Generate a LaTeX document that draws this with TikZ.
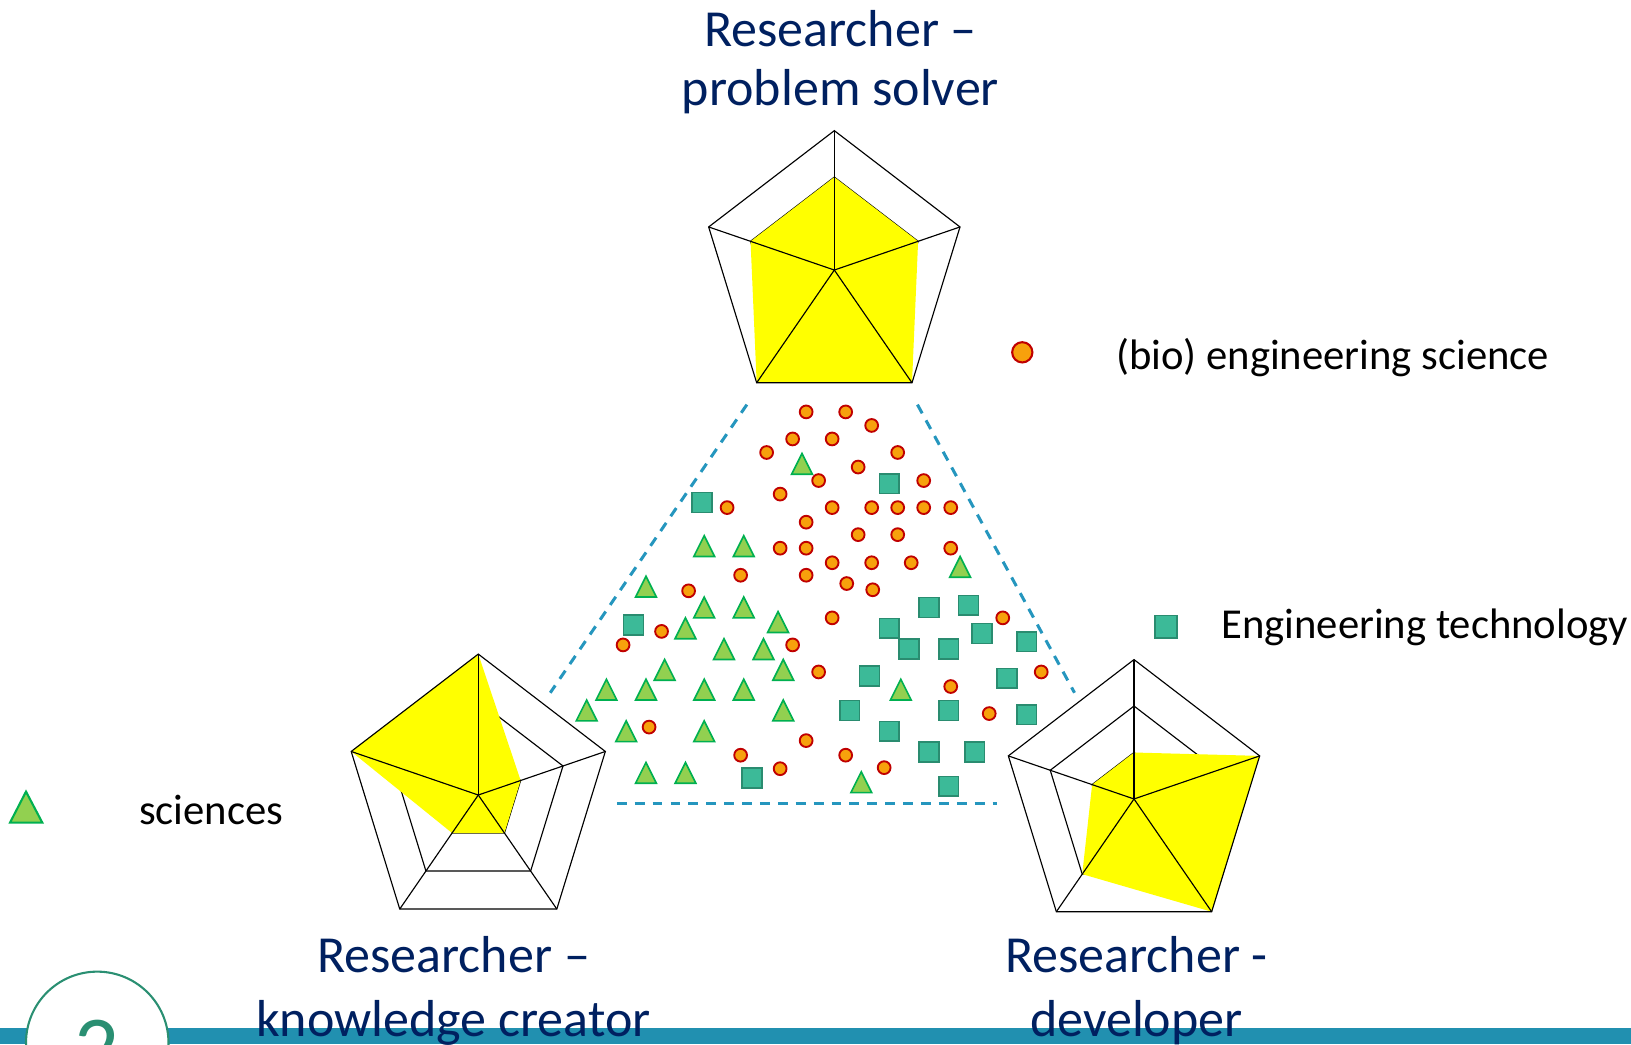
\documentclass[tikz,border=0pt]{standalone}
\usepackage{fontspec}
\setmainfont{Carlito}
\definecolor{navy}{HTML}{002060}
\definecolor{dotfill}{HTML}{F7A10C}
\definecolor{dotline}{HTML}{C00000}
\definecolor{trifill}{HTML}{92D050}
\definecolor{triline}{HTML}{00B050}
\definecolor{sqfill}{HTML}{3CBA98}
\definecolor{sqline}{HTML}{2A8C70}
\definecolor{dashcol}{HTML}{2596BE}
\definecolor{barcol}{HTML}{2190B0}
\definecolor{badge}{HTML}{2A8F72}
\definecolor{radarfill}{RGB}{255,255,0}
\begin{document}
\begin{tikzpicture}[x=1pt,y=-1pt,
  gridline/.style={black,line width=1.1pt,line join=miter},
  dotmark/.style={circle,fill=dotfill,draw=dotline,line width=1.8pt,minimum size=12.3pt,inner sep=0pt},
  sqmark/.style={rectangle,fill=sqfill,draw=sqline,line width=1.5pt,minimum size=19pt,inner sep=0pt},
  trimark/.style={fill=trifill,draw=triline,line width=1.6pt,line join=miter},
  divider/.style={dashcol,line width=2.9pt,dash pattern=on 9.5pt off 7.7pt},
  title/.style={navy,align=center,inner sep=0pt,anchor=base},
  legend/.style={black,inner sep=0pt,anchor=base west,font=\fontsize{41}{49}\selectfont}]
\useasboundingbox (0,0) rectangle (1568,1004);

% radar chart: #1 prefix, #2 center, #3..#7 data (top, UR, LR, LL, UL), #8 radius
\newcommand{\radarchart}[8]{%
\begin{scope}[shift={#2},xscale=0.948]
  \foreach \a [count=\k] in {-90,-18,54,126,198} {
    \coordinate (#1o\k) at (\a:#8);
    \coordinate (#1m\k) at (\a:{#8*2/3});
    \coordinate (#1i\k) at (\a:{#8/3});
  }
  \coordinate (#1c) at (0,0);
  \draw[gridline] (#1i1)--(#1i2)--(#1i3)--(#1i4)--(#1i5)--cycle;
  \draw[gridline] (#1m1)--(#1m2)--(#1m3)--(#1m4)--(#1m5)--cycle;
  \fill[radarfill] (-90:{#3*#8}) -- (-18:{#4*#8}) -- (54:{#5*#8}) -- (126:{#6*#8}) -- (198:{#7*#8}) -- cycle;
  \draw[gridline] (#1o1)--(#1o2)--(#1o3)--(#1o4)--(#1o5)--cycle;
  \foreach \k in {1,...,5} \draw[gridline] (#1c) -- (#1o\k);
\end{scope}}

\radarchart{T}{(802.1,259.6)}{2/3}{2/3}{1}{1}{2/3}{134}
\radarchart{L}{(459.8,764.3)}{1}{1/3}{1/3}{1/3}{1}{135.5}
\radarchart{R}{(1090.2,768.1)}{1/3}{1}{1}{2/3}{1/3}{134}

% dashed triangle
\coordinate (dl1) at (718,389);
\coordinate (dl2) at (529,666);
\coordinate (dr1) at (882,389);
\coordinate (dr2) at (1033,666);
\coordinate (db1) at (593,772);
\coordinate (db2) at (958,772);
\draw[divider] (dl1) -- (dl2);
\draw[divider] (dr1) -- (dr2);
\draw[divider] (db1) -- (db2);

% circles
\foreach \x/\y [count=\i] in {775/396,813/396,838/409,762/422,800/422,737/435,863/435,825/449,787/462,888/462,750/475,699/488,800/488,838/488,863/488,888/488,914/488,775/502,825/514,863/514,750/527,775/527,914/527,800/541,838/541,876/541,712/553,775/553,814/561,662/568,839/567,800/594,964/594,636/607,599/620,762/620,787/646,1001/646,914/660,951/686,624/699,775/712,712/726,813/726,850/738,750/739}
  \node[dotmark] (c\i) at (\x,\y) {};

% squares
\foreach \x/\y [count=\i] in {675/483,855/465,609/601,893/584,931/582,855/604,874/624,912/624,944/609,987/617,836/650,968/652,817/683,912/683,987/687,855/703,893/723,937/723,723/748,912/756}
  \node[sqmark] (s\i) at (\x,\y) {};

% triangles
\foreach \x/\y in {771/446,677/525,715/525,923/545,621/564,677/584,715/584,748/598,659/604,696/624,734/624,639/644,753/644,583/663,621/663,677/663,715/663,866/663,564/683,753/683,602/703,677/703,621/743,659/743,828/752}
  \draw[trimark] (\x-10,\y+10) -- (\x,\y-10) -- (\x+10,\y+10) -- cycle;

% legend
\node[dotmark,minimum size=19.5pt,line width=2pt] (legc) at (982.8,338.7) {};
\node[legend] (legct) at (1073,355) {(bio) engineering science};
\node[sqmark,minimum size=21.5pt] (legs) at (1121,602.4) {};
\node[legend] (legst) at (1174,613.7) {Engineering technology};
\draw[trimark,line width=2pt] (9.6,790.9) -- (25,761) -- (40.7,790.9) -- cycle;
\node[legend] (legtt) at (133.5,792.5) {sciences};

% bottom bar and badge
\fill[barcol] (0,988.3) rectangle (1568,1004);
\node[circle,draw=badge,line width=2pt,fill=white,minimum size=137pt,inner sep=0pt] (badgec) at (93.5,1002.6) {};
\node[badge,anchor=base,inner sep=0pt,font=\fontsize{85}{100}\selectfont] (badgen) at (93.5,1036) {2};

% titles (base anchor = baseline of last line)
\node[title,font=\fontsize{50}{57}\selectfont] (tt) at (808,101.9) {Researcher –\\problem solver};
\node[title,font=\fontsize{50}{61.3}\selectfont] (tl) at (436,996) {Researcher –\\knowledge creator};
\node[title,font=\fontsize{50}{61.3}\selectfont] (tr) at (1092.5,996) {Researcher -\\developer};
\end{tikzpicture}
\end{document}
